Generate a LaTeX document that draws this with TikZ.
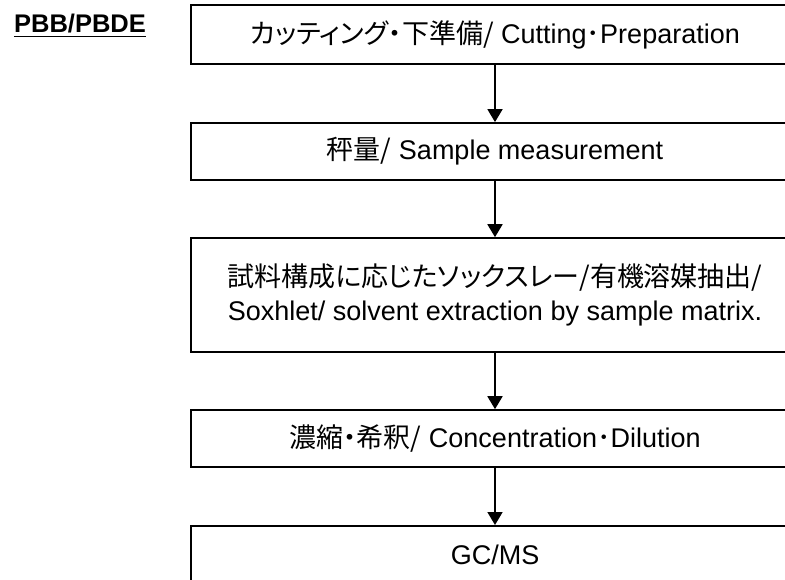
\documentclass[tikz,border=0pt]{standalone}
\usepackage{fontspec}
\setmainfont{Liberation Sans}
\newfontfamily\jp[RawFeature=+palt]{Noto Sans CJK JP}
\newfontfamily\jpf{Noto Sans CJK JP}
\usetikzlibrary{arrows.meta}
\tikzset{
  x=1pt, y=-1pt,
  stepbox/.style={draw=black, line width=1.6pt, fill=white, inner sep=0pt,
    minimum width=608pt, align=center, font=\fontsize{27}{34}\selectfont},
  arr/.style={line width=1.8pt, -{Triangle[width=15pt,length=13pt]}},
}
\begin{document}
\begin{tikzpicture}
\useasboundingbox (0,0) rectangle (785,580);
\clip (0,0) rectangle (785,580);
\fill[white] (0,0) rectangle (785,580);
\node[inner sep=0pt, font=\fontsize{25.5}{30}\selectfont\bfseries, anchor=base] (title) at (80,33) {PBB/PBDE};
\draw[line width=1.8pt] ([yshift=-3.5pt]title.base west) -- ([yshift=-3.5pt]title.base east);
\node[stepbox, minimum height=59pt] (b1) at (495,34.5) {{\jp カッティング・下準備/} Cutting{\jpf ･}Preparation};
\node[stepbox, minimum height=57pt] (b2) at (495,151.4) {{\jp 秤量/} Sample measurement};
\node[stepbox, minimum height=114pt] (b3) at (495,295) {{\jp 試料構成に応じたソックスレー/有機溶媒抽出/}\\Soxhlet/ solvent extraction by sample matrix.};
\node[stepbox, minimum height=57pt] (b4) at (495,438.5) {{\jp 濃縮・希釈/} Concentration{\jpf ･}Dilution};
\node[stepbox, minimum height=59pt] (b5) at (495,555.3) {GC/MS};
\draw[arr] (b1.south) -- (b2.north);
\draw[arr] (b2.south) -- (b3.north);
\draw[arr] (b3.south) -- (b4.north);
\draw[arr] (b4.south) -- (b5.north);
\end{tikzpicture}
\end{document}
